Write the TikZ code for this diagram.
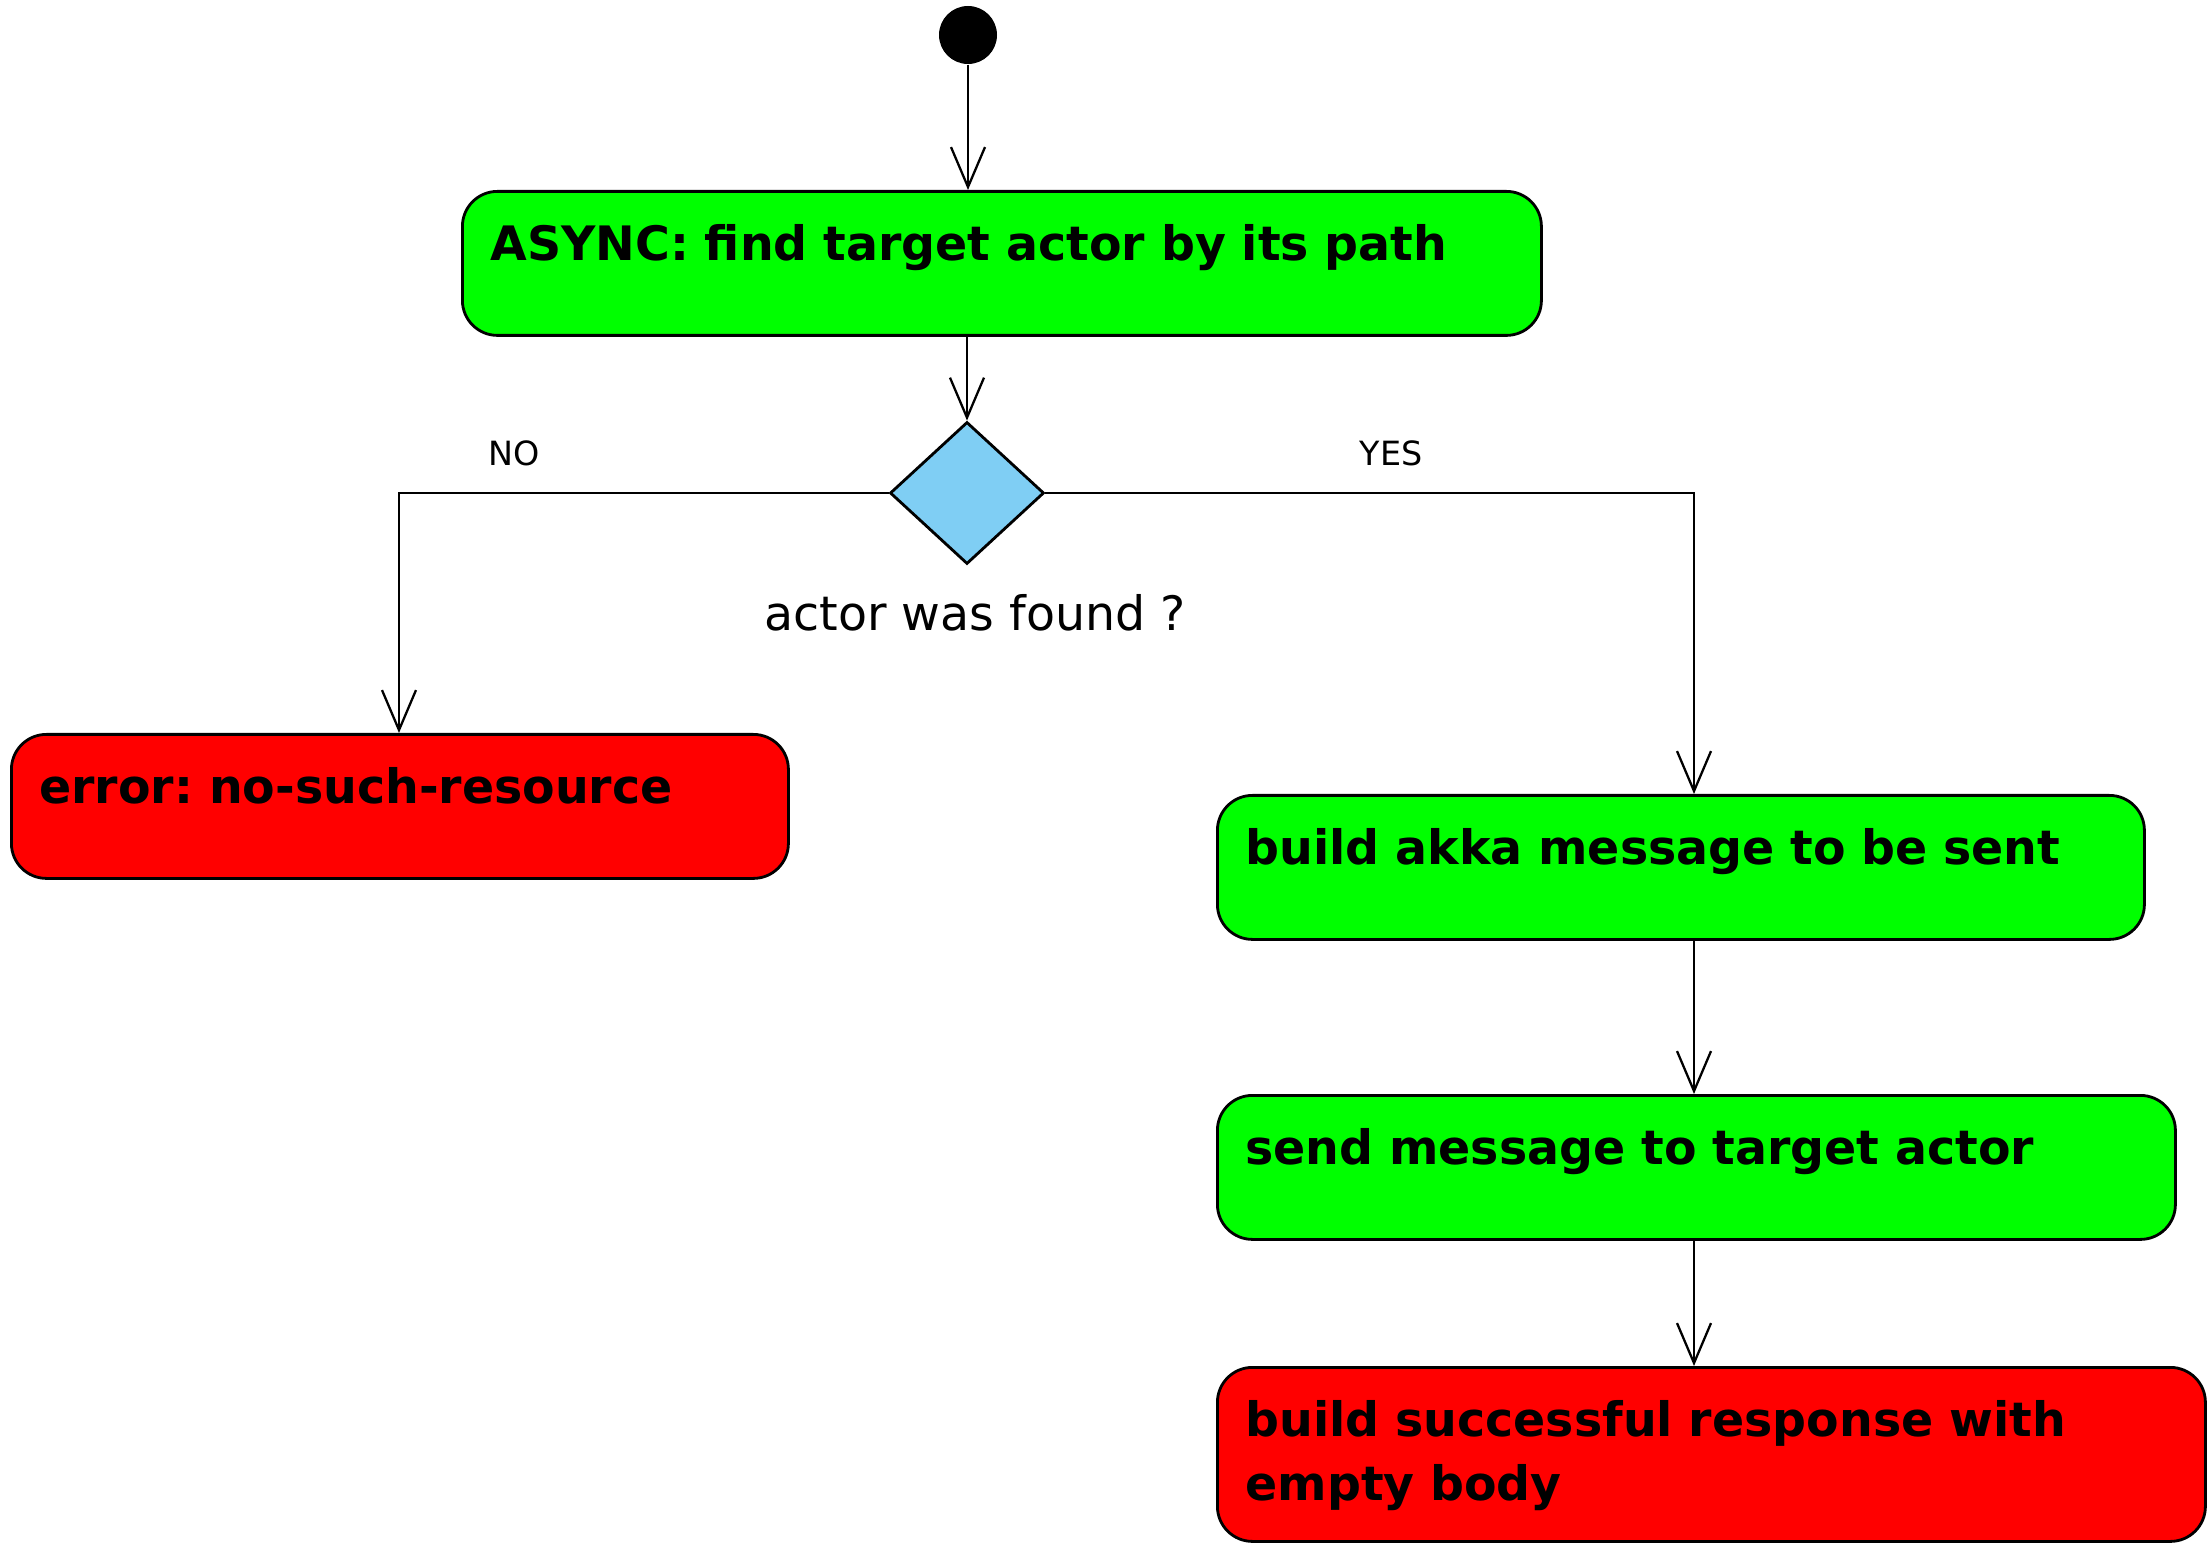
\documentclass[tikz,border=0pt]{standalone}
\usepackage{fontspec}
\setmainfont{DejaVu Sans}
\frenchspacing
\usetikzlibrary{shapes.geometric,arrows.meta}
\definecolor{act}{HTML}{00FF00}
\definecolor{err}{HTML}{FF0000}
\definecolor{dec}{HTML}{7FCEF4}
\tikzset{act/.style={black,draw=black,fill=act,rectangle,rounded corners=0.35cm,anchor=north west,inner sep=0.28cm,text height=0.41cm,text depth=0.47cm,align=left,line width=0.8pt,font=\fontsize{13.5}{18.2}\selectfont\bfseries}}
\tikzset{err/.style={act,fill=err}}
\tikzset{dec/.style={black,draw=black,fill=dec,diamond,minimum width=1.54cm,minimum height=1.42cm,inner sep=0pt,line width=0.8pt}}
\tikzset{startdot/.style={circle,fill=black,minimum size=0.58cm,inner sep=0pt}}
\tikzset{lbl/.style={black,inner sep=0pt,font=\fontsize{9.5}{11}\selectfont}}
\tikzset{flow/.style={line width=0.65pt,-{Straight Barb[length=0.4cm,width=0.34cm]}}}

\begin{document}
\begin{tikzpicture}
    \useasboundingbox (0,0) rectangle (22.08,-15.48);

    \node[startdot] (start) at (9.68,-0.35) {};

    \node[act,text width=10.23cm] (find) at (4.61,-1.90) {ASYNC: find target actor by its path};

    \node[dec] (found) at (9.67,-4.93) {};
    \node[lbl,font=\fontsize{13.5}{16}\selectfont] (foundl) at (9.75,-6.13) {actor was found ?};

    \node[err,text width=7.21cm] (nores) at (0.10,-7.33) {error: no-such-resource};

    \node[act,text width=8.71cm] (build) at (12.16,-7.94) {build akka message to be sent};
    \node[act,text width=9.02cm] (send) at (12.16,-10.94) {send message to target actor};
    \node[err,text width=9.32cm,text depth=0.77cm] (resp) at (12.16,-13.66) {build successful response with\\empty body};

    \coordinate (no) at (3.99,-4.93);
    \coordinate (yes) at (16.94,-4.93);
    \node[lbl] (nol) at (5.14,-4.53) {NO};
    \node[lbl] (yesl) at (13.91,-4.53) {YES};

    \draw[flow] (start) -- (start |- find.north);
    \draw[flow] (find.south -| found) -- (found.north);

    \draw[flow] (found.west) -- (no) -- (no |- nores.north);
    \draw[flow] (found.east) -- (yes) -- (yes |- build.north);

    \draw[flow] (build.south -| yes) -- (send.north -| yes);
    \draw[flow] (send.south -| yes) -- (resp.north -| yes);
\end{tikzpicture}
\end{document}
